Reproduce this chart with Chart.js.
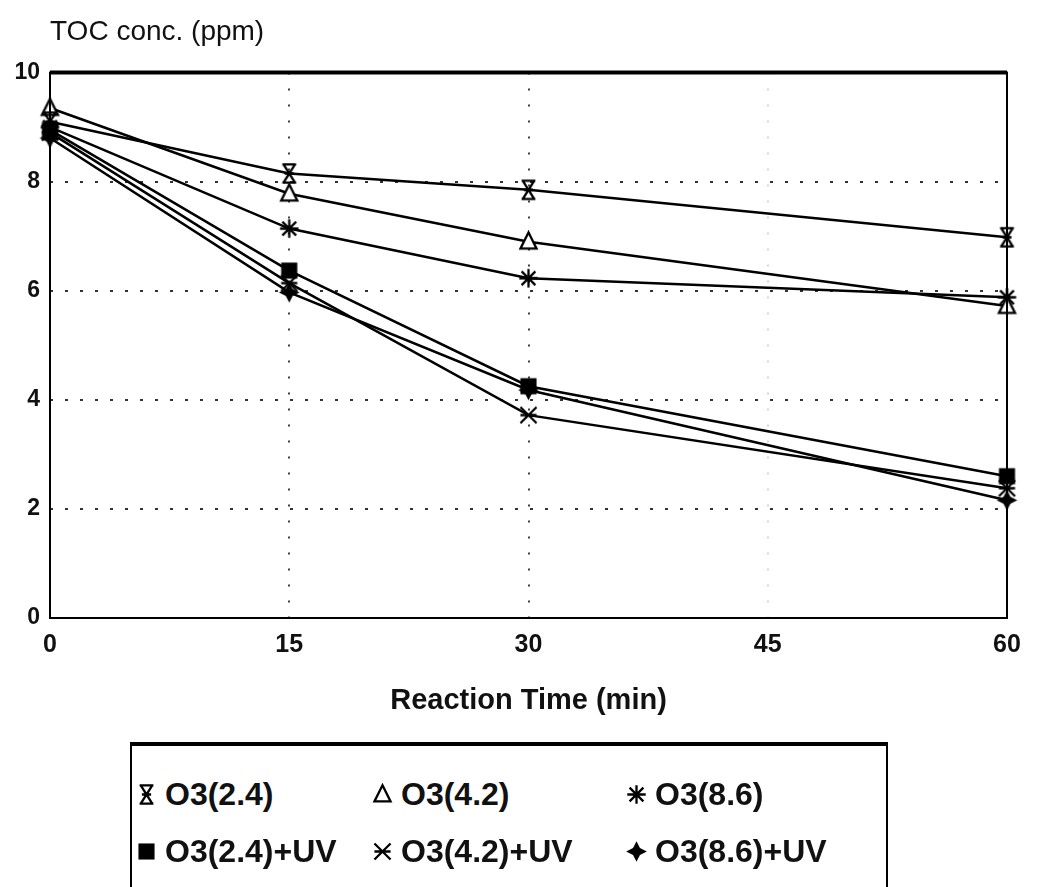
<!DOCTYPE html>
<html lang="en">
<head>
    <meta charset="UTF-8">
    <title>TOC conc. vs Reaction Time</title>
    <script src="https://cdn.jsdelivr.net/npm/chart.js"></script>
    <style>
        body {
            margin: 0;
            width: 1037px;
            height: 887px;
            overflow: hidden;
            background: #fff;
            font-family: "Liberation Sans", Arial, sans-serif;
            position: relative;
        }
        #chart-box {
            position: absolute;
            left: 0;
            top: 0;
            width: 1037px;
            height: 740px;
        }
        #legend {
            position: absolute;
            left: 130px;
            top: 742px;
            width: 758px;
            height: 200px;
            box-sizing: border-box;
            border: 2px solid #000;
            border-top-width: 4px;
            padding: 20px 0 0 3px;
            display: grid;
            grid-template-columns: 236px 254px auto;
            grid-auto-rows: 57px;
        }
        .item {
            display: flex;
            align-items: center;
            gap: 7px;
            font-size: 32px;
            font-weight: bold;
            color: #111;
        }
    </style>
</head>
<body>
    <div id="chart-box"><canvas id="tocChart"></canvas></div>
    <div id="legend"></div>

    <script>
        // values
        let times = [0, 15, 30, 60];
        let seriesNames = ["O3(2.4)", "O3(4.2)", "O3(8.6)", "O3(2.4)+UV", "O3(4.2)+UV", "O3(8.6)+UV"];
        let o3_24 = [9.1, 8.15, 7.85, 6.98];
        let o3_42 = [9.35, 7.78, 6.9, 5.72];
        let o3_86 = [9.0, 7.14, 6.23, 5.88];
        let o3_24uv = [8.95, 6.37, 4.25, 2.6];
        let o3_42uv = [8.9, 6.14, 3.72, 2.38];
        let o3_86uv = [8.8, 5.97, 4.18, 2.16];
        let xTicks = [0, 15, 30, 45, 60];
        let yTicks = [0, 2, 4, 6, 8, 10];

        let markerKinds = ["hourglass", "triangle", "asterisk", "square", "xbar", "diamond"];

        // markers drawn on a 20x20 grid, scaled up a little
        function makeMarker(kind) {
            let size = 23;
            let c = document.createElement("canvas");
            c.width = size;
            c.height = size;
            let g = c.getContext("2d");
            g.scale(size / 20, size / 20);
            g.strokeStyle = "#000";
            g.fillStyle = "#000";
            g.lineWidth = 2;
            g.beginPath();
            if (kind == "hourglass") {
                g.moveTo(4, 2); g.lineTo(16, 2);
                g.moveTo(4, 18); g.lineTo(16, 18);
                g.moveTo(5, 2); g.lineTo(15, 18);
                g.moveTo(15, 2); g.lineTo(5, 18);
                g.moveTo(6, 10); g.lineTo(14, 10);
                g.stroke();
            } else if (kind == "triangle") {
                g.moveTo(10, 2); g.lineTo(17, 16); g.lineTo(3, 16); g.closePath();
                g.fillStyle = "#fff";
                g.fill();
                g.stroke();
            } else if (kind == "asterisk") {
                g.moveTo(2, 10); g.lineTo(18, 10);
                g.moveTo(10, 2); g.lineTo(10, 18);
                g.moveTo(4, 4); g.lineTo(16, 16);
                g.moveTo(16, 4); g.lineTo(4, 16);
                g.stroke();
            } else if (kind == "square") {
                g.fillRect(3, 3, 14, 14);
            } else if (kind == "xbar") {
                g.moveTo(3, 3); g.lineTo(17, 17);
                g.moveTo(17, 3); g.lineTo(3, 17);
                g.moveTo(3, 10); g.lineTo(17, 10);
                g.stroke();
            } else if (kind == "diamond") {
                g.moveTo(10, 1); g.lineTo(13, 7); g.lineTo(19, 10); g.lineTo(13, 13);
                g.lineTo(10, 19); g.lineTo(7, 13); g.lineTo(1, 10); g.lineTo(7, 7);
                g.closePath();
                g.fill();
            }
            return c;
        }

        let seriesValues = [o3_24, o3_42, o3_86, o3_24uv, o3_42uv, o3_86uv];
        let datasets = seriesValues.map((vals, i) => ({
            label: seriesNames[i],
            data: times.map((t, j) => ({ x: t, y: vals[j] })),
            borderColor: "#000",
            borderWidth: 2.5,
            pointStyle: makeMarker(markerKinds[i]),
            tension: 0,
            clip: false
        }));

        // frame around the plot area, top edge heavier
        let framePlugin = {
            id: "frame",
            afterDraw(chart) {
                let a = chart.chartArea;
                let ctx = chart.ctx;
                ctx.save();
                ctx.strokeStyle = "#000";
                ctx.lineWidth = 2;
                ctx.strokeRect(a.left, a.top, a.right - a.left, a.bottom - a.top);
                ctx.lineWidth = 4;
                ctx.beginPath();
                ctx.moveTo(a.left, a.top);
                ctx.lineTo(a.right, a.top);
                ctx.stroke();
                ctx.restore();
            }
        };

        let ctx = document.getElementById("tocChart").getContext("2d");
        let chart = new Chart(ctx, {
            type: "line",
            data: { datasets: datasets },
            options: {
                responsive: true,
                maintainAspectRatio: false,
                animation: false,
                events: [],
                layout: { padding: { left: 10, right: 30, top: 0, bottom: 0 } },
                plugins: {
                    legend: { display: false },
                    tooltip: { enabled: false },
                    title: {
                        display: true,
                        fullSize: false,
                        text: "TOC conc. (ppm)",
                        align: "start",
                        color: "#111",
                        font: { family: "'Liberation Sans', Arial", size: 28, weight: "normal" },
                        padding: { top: 15, bottom: 24 }
                    }
                },
                scales: {
                    x: {
                        type: "linear",
                        min: 0,
                        max: 60,
                        afterBuildTicks: s => { s.ticks = xTicks.map(v => ({ value: v })); },
                        afterFit: s => { s.height = 122; },
                        ticks: {
                            color: "#111",
                            padding: 12,
                            font: { family: "'Liberation Sans', Arial", size: 25, weight: "bold" }
                        },
                        grid: {
                            drawTicks: false,
                            lineWidth: 2,
                            color: c => {
                                let v = c.tick ? c.tick.value : 0;
                                if (v == 15 || v == 30) return "rgba(0,0,0,0.75)";
                                if (v == 45) return "rgba(120,120,200,0.35)";
                                return "transparent";
                            }
                        },
                        border: { display: false, dash: [2, 14] },
                        title: {
                            display: true,
                            text: "Reaction Time (min)",
                            color: "#111",
                            font: { family: "'Liberation Sans', Arial", size: 29, weight: "bold" },
                            padding: { top: 0, bottom: 22 }
                        }
                    },
                    y: {
                        min: 0,
                        max: 10,
                        afterBuildTicks: s => { s.ticks = yTicks.map(v => ({ value: v })); },
                        afterFit: s => { s.width = 40; },
                        ticks: {
                            color: "#111",
                            padding: 10,
                            font: { family: "'Liberation Sans', Arial", size: 23, weight: "bold" }
                        },
                        grid: {
                            drawTicks: false,
                            lineWidth: 2,
                            color: c => {
                                let v = c.tick ? c.tick.value : 0;
                                return (v == 0 || v == 10) ? "transparent" : "rgba(0,0,0,0.8)";
                            }
                        },
                        border: { display: false, dash: [3, 12] }
                    }
                }
            },
            plugins: [framePlugin]
        });

        // legend box below the chart, three columns
        let legendDiv = document.getElementById("legend");
        seriesNames.forEach((name, i) => {
            let item = document.createElement("div");
            item.className = "item";
            item.appendChild(makeMarker(markerKinds[i]));
            let span = document.createElement("span");
            span.textContent = name;
            item.appendChild(span);
            legendDiv.appendChild(item);
        });
    </script>
</body>
</html>
